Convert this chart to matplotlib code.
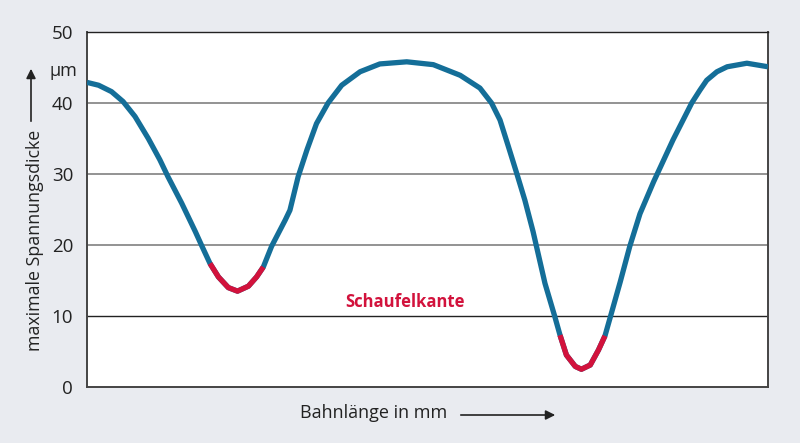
import numpy as np
import matplotlib.pyplot as plt

plt.rcParams['font.family'] = ['Open Sans', 'DejaVu Sans']

# Bahnlänge (relative Position, 0..100) und maximale Spannungsdicke in µm
bahn = [0, 1.7, 3.6, 5.3, 7.05, 9.0, 10.7, 11.9, 13.9, 15.9, 16.8,
        18.06, 19.3, 20.75, 22.1, 23.7, 24.9, 25.89,
        27.1, 29.1, 29.8, 31.0, 32.3, 33.7, 35.4, 37.4, 40.1, 43.0, 46.95,
        50.85, 54.8, 57.7, 59.4, 60.65, 61.9, 63.1, 64.3, 65.5, 67.25, 68.7,
        69.46, 70.4, 71.7, 72.6, 73.9, 75.1, 76.06,
        76.8, 78.3, 79.7, 81.2, 83.2, 86.05, 88.8, 90.0, 91.0, 92.5, 94.0, 96.9, 100]
dicke = [42.9, 42.5, 41.6, 40.2, 38.1, 35.0, 32.0, 29.6, 25.9, 21.9, 20.0,
         17.4, 15.5, 14.0, 13.5, 14.2, 15.5, 16.9,
         19.8, 23.5, 24.9, 29.6, 33.4, 37.1, 40.0, 42.5, 44.4, 45.5, 45.8,
         45.4, 43.9, 42.1, 40.0, 37.6, 33.8, 30.1, 26.3, 21.9, 14.6, 9.9,
         7.3, 4.5, 2.9, 2.5, 3.1, 5.2, 7.2,
         9.7, 14.8, 19.8, 24.4, 28.9, 34.8, 40.0, 41.8, 43.2, 44.4, 45.1, 45.6, 45.1]

# Bereiche der Schaufelkante (rot)
kante = [(18.06, 25.89), (69.46, 76.06)]

yticks = [0, 10, 20, 30, 40, 50]

blau = '#146e98'
rot = '#d2123c'
hintergrund = '#e9ebf0'

fig = plt.figure(figsize=(8, 4.43), dpi=100, facecolor=hintergrund)
ax = fig.add_axes([0.10875, 0.1264, 0.85125, 0.8014])
ax.set_facecolor('white')

x = np.array(bahn)
y = np.array(dicke)
ax.plot(x, y, color=blau, lw=3.8, solid_capstyle='butt', solid_joinstyle='round', zorder=3)
for a, b in kante:
    m = (x >= a) & (x <= b)
    ax.plot(x[m], y[m], color=rot, lw=3.8, solid_capstyle='butt', solid_joinstyle='round', zorder=4)

ax.set_xlim(0, 100)
ax.set_ylim(0, 50)
ax.set_xticks([])
ax.set_yticks(yticks)
ax.set_yticklabels([str(t) for t in yticks], fontsize=13.5, color='#222222')
ax.tick_params(axis='y', length=0, pad=10)

# Gitterlinien
for t in [20, 30, 40]:
    ax.axhline(t, color='#8a8a8a', lw=1.3, zorder=1)
ax.axhline(10, color='#222222', lw=1.0, zorder=1)

for s in ['left', 'right', 'bottom']:
    ax.spines[s].set_color('#444444')
    ax.spines[s].set_linewidth(1.4)
ax.spines['top'].set_color('#222222')
ax.spines['top'].set_linewidth(1.0)

ax.text(46.7, 12.0, 'Schaufelkante', color=rot, fontsize=12, fontweight='bold',
        ha='center', va='center')

# Einheit
fig.text(77 / 800, 1 - 71 / 443, 'µm', fontsize=13, ha='right', va='center', color='#222222')

# Achsenbeschriftungen mit Pfeilen
fig.text(35 / 800, 1 - 240 / 443, 'maximale Spannungsdicke', rotation=90, fontsize=12.8,
         ha='center', va='center', color='#222222')
ax.annotate('', xy=(31 / 800, 1 - 66 / 443), xytext=(31 / 800, 1 - 124 / 443),
            xycoords='figure fraction',
            arrowprops=dict(arrowstyle='-|>', color='#222222', lw=1.2, mutation_scale=14))

fig.text(374 / 800, 1 - 413 / 443, 'Bahnlänge in mm', fontsize=13,
         ha='center', va='center', color='#222222')
ax.annotate('', xy=(558 / 800, 1 - 415 / 443), xytext=(458 / 800, 1 - 415 / 443),
            xycoords='figure fraction',
            arrowprops=dict(arrowstyle='-|>', color='#222222', lw=1.2, mutation_scale=14))

fig.savefig('out.png', dpi=100, facecolor=hintergrund)
